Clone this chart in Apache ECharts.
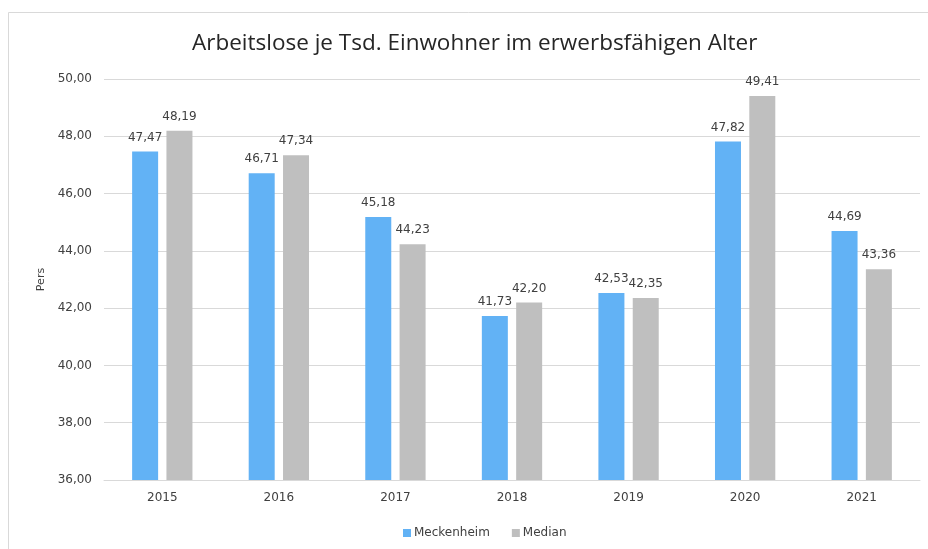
<!DOCTYPE html>
<html>
<head>
<meta charset="utf-8">
<script src="https://cdn.jsdelivr.net/npm/echarts@6/dist/echarts.min.js"></script>
<style>html,body{margin:0;padding:0;background:#fff}#c{width:928px;height:549px}</style>
</head>
<body>
<div id="c"></div>
<script>
const categories = ['2015','2016','2017','2018','2019','2020','2021'];
const meckenheim = [47.47, 46.71, 45.18, 41.73, 42.53, 47.82, 44.69];
const median = [48.19, 47.34, 44.23, 42.20, 42.35, 49.41, 43.36];
const seriesNames = ['Meckenheim', 'Median'];
const yMin = 36, yMax = 50, yStep = 2;

const fmt = v => Number(v).toFixed(2).replace('.', ',');
const chart = echarts.init(document.getElementById('c'), null, {renderer: 'canvas'});
const labelFont = {fontFamily: 'DejaVu Sans', fontSize: 12, color: '#404040'};
chart.setOption({
  animation: false,
  backgroundColor: '#fff',
  graphic: [{type: 'rect', shape: {x: 8.5, y: 12.5, width: 1000, height: 1000}, style: {fill: 'none', stroke: '#d9d9d9', lineWidth: 1}, silent: true}],
  title: {text: 'Arbeitslose je Tsd. Einwohner im erwerbsfähigen Alter', left: 187, top: 27,
    textStyle: {fontFamily: 'Open Sans', fontSize: 22.5, fontWeight: 'normal', color: '#262626'}},
  grid: {left: 104, right: 8, top: 79, bottom: 69},
  legend: {bottom: 5, left: 398, itemWidth: 8, itemHeight: 8, itemGap: 22, icon: 'rect',
    textStyle: {fontFamily: 'DejaVu Sans', fontSize: 12, color: '#404040', padding: [0,0,0,-2]},
    data: seriesNames},
  xAxis: {type: 'category', data: categories,
    axisLine: {lineStyle: {color: '#d9d9d9'}}, axisTick: {show: false},
    axisLabel: {fontFamily: 'DejaVu Sans', fontSize: 12, color: '#404040', margin: 12}},
  yAxis: {type: 'value', min: yMin, max: yMax, interval: yStep,
    name: 'Pers', nameLocation: 'middle', nameGap: 54, nameRotate: 90,
    nameTextStyle: {fontFamily: 'DejaVu Sans', fontSize: 11, color: '#404040'},
    axisLine: {show: false}, axisTick: {show: false},
    splitLine: {lineStyle: {color: '#d9d9d9'}},
    axisLabel: {fontFamily: 'DejaVu Sans', fontSize: 12, color: '#404040', margin: 12, formatter: v => fmt(v)}},
  series: [
    {name: seriesNames[0], type: 'bar', data: meckenheim, barWidth: 26, barGap: '32%',
      itemStyle: {color: '#62b2f5'},
      label: Object.assign({show: true, position: 'top', distance: 8, formatter: p => fmt(p.value)}, labelFont)},
    {name: seriesNames[1], type: 'bar', data: median, barWidth: 26,
      itemStyle: {color: '#bfbfbf'},
      label: Object.assign({show: true, position: 'top', distance: 8, formatter: p => fmt(p.value)}, labelFont)}
  ]
});
</script>
</body>
</html>
